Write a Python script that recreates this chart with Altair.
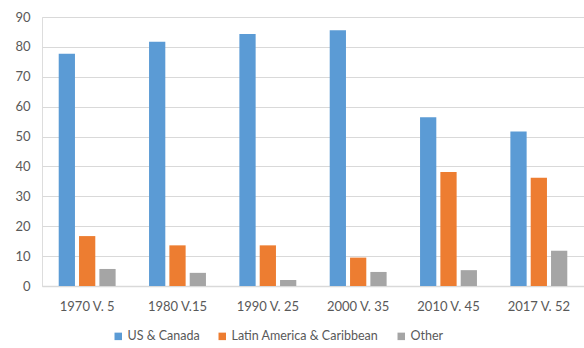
import altair as alt
import pandas as pd

categories = ["1970 V. 5", "1980 V.15", "1990 V. 25", "2000 V. 35", "2010 V. 45", "2017 V. 52"]
series = ["US & Canada", "Latin America & Caribbean", "Other"]
us_canada = [77.7, 81.7, 84.3, 85.6, 56.5, 51.7]
latin_america = [16.7, 13.6, 13.6, 9.5, 38.1, 36.2]
other = [5.7, 4.4, 2.0, 4.7, 5.3, 11.8]
colors = ["#5B9BD5", "#ED7D31", "#A5A5A5"]

rows = []
for i, c in enumerate(categories):
    for s, vals in zip(series, [us_canada, latin_america, other]):
        rows.append({"period": c, "region": s, "value": vals[i]})
df = pd.DataFrame(rows)

font = "Lato"
chart = alt.Chart(df).mark_bar().encode(
    x=alt.X("period:N", sort=categories, title=None,
            scale=alt.Scale(paddingInner=0.37, paddingOuter=0.185),
            axis=alt.Axis(labelAngle=0, labelFontSize=13, labelColor="#595959", labelFont=font,
                          labelPadding=14, ticks=False, domainColor="#D9D9D9", domainWidth=1.5)),
    xOffset=alt.XOffset("region:N", sort=series, scale=alt.Scale(paddingInner=0.2)),
    y=alt.Y("value:Q", title=None,
            scale=alt.Scale(domain=[0, 90]),
            axis=alt.Axis(values=list(range(0, 91, 10)), labelFontSize=13, labelColor="#595959",
                          labelFont=font, labelPadding=12, ticks=False, domain=False,
                          gridColor="#D9D9D9", gridWidth=1.2)),
    color=alt.Color("region:N", sort=series,
                    scale=alt.Scale(domain=series, range=colors),
                    legend=alt.Legend(title=None, orient="none", direction="horizontal",
                                      legendX=70, legendY=313, symbolType="square", symbolSize=56,
                                      symbolStrokeWidth=0, labelFontSize=12.5, labelColor="#595959",
                                      labelFont=font, columnPadding=16, labelOffset=3)),
).properties(
    width=542, height=269,
    autosize=alt.AutoSizeParams(type="none"),
    padding={"left": 42, "top": 17, "right": 0, "bottom": 62},
).configure_view(stroke=None).configure(background="white")

chart.save("out.html", embed_options={"renderer": "svg", "actions": False})
